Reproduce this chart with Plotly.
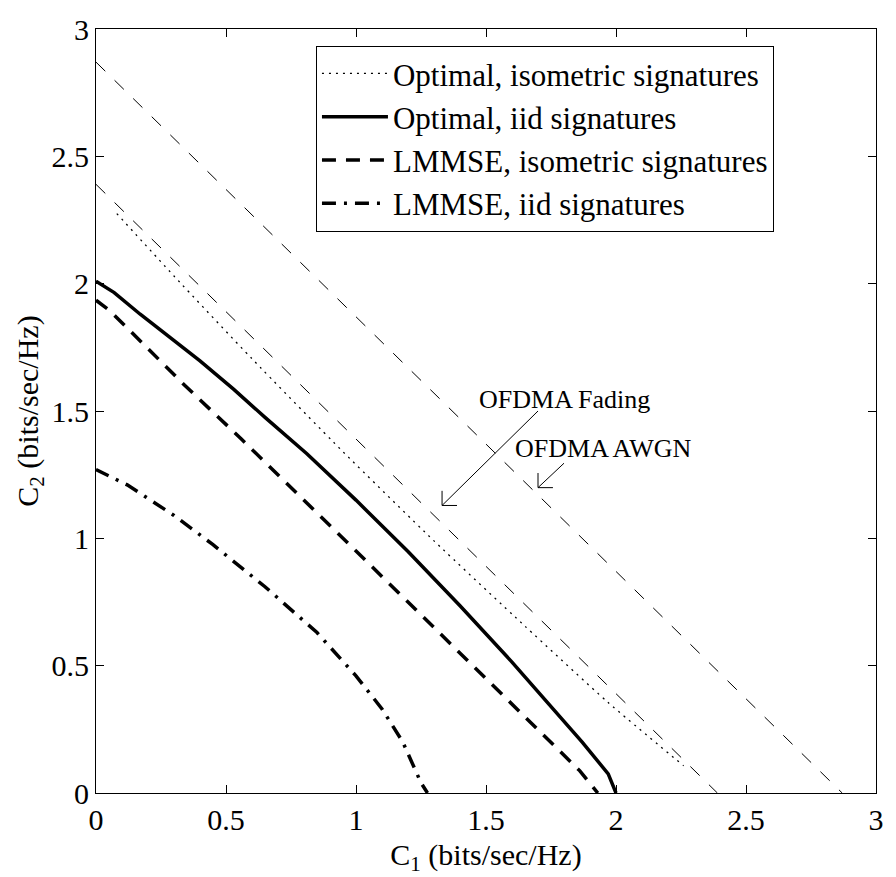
import plotly.graph_objects as go

# ---- data ----
opt_iso_x = [0.08, 0.3, 0.6, 0.95, 1.3, 1.65, 1.97, 2.26]
opt_iso_y = [2.275, 2.03, 1.705, 1.34, 0.99, 0.655, 0.355, 0.107]

opt_iid_x = [0, 0.07, 0.17, 0.27, 0.4, 0.53, 0.65, 0.81, 1.0, 1.2, 1.4, 1.6, 1.73, 1.87, 1.97, 2.0]
opt_iid_y = [2.01, 1.965, 1.88, 1.80, 1.697, 1.585, 1.475, 1.333, 1.15, 0.948, 0.735, 0.514, 0.365, 0.2, 0.075, 0.0]

lmmse_iso_x = [0, 0.054, 0.2, 0.341, 0.558, 0.8, 1.0, 1.2, 1.4, 1.644, 1.79, 1.861, 1.93]
lmmse_iso_y = [1.935, 1.893, 1.745, 1.601, 1.391, 1.152, 0.95, 0.75, 0.548, 0.302, 0.157, 0.087, 0.0]

lmmse_iid_x = [0, 0.12, 0.3, 0.45, 0.65, 0.85, 1.0, 1.1, 1.18, 1.21, 1.25, 1.275]
lmmse_iid_y = [1.27, 1.21, 1.09, 0.975, 0.81, 0.63, 0.46, 0.33, 0.2, 0.13, 0.04, 0.0]

ofdma_fading_x = [0, 2.39]
ofdma_fading_y = [2.39, 0]
ofdma_awgn_x = [0, 2.87]
ofdma_awgn_y = [2.87, 0]

series_names = ["Optimal, isometric signatures", "Optimal, iid signatures",
                "LMMSE, isometric signatures", "LMMSE, iid signatures"]

annot_texts = ["OFDMA Fading", "OFDMA AWGN"]
annot_text_pos = [(1.465, 1.545), (1.605, 1.353)]
annot_tail = [(1.70, 1.50), (1.80, 1.295)]
annot_head = [(1.331, 1.129), (1.70, 1.199)]

tick_vals = [0, 0.5, 1, 1.5, 2, 2.5, 3]
tick_text = ["0", "0.5", "1", "1.5", "2", "2.5", "3"]

FONT = "Liberation Serif, Times New Roman, serif"

fig = go.Figure()
fig.add_trace(go.Scatter(x=ofdma_awgn_x, y=ofdma_awgn_y, mode="lines", showlegend=False,
                         line=dict(color="black", width=1, dash="13px,13px")))
fig.add_trace(go.Scatter(x=ofdma_fading_x, y=ofdma_fading_y, mode="lines", showlegend=False,
                         line=dict(color="black", width=1, dash="13px,13px")))
fig.add_trace(go.Scatter(x=opt_iso_x, y=opt_iso_y, mode="lines", name=series_names[0],
                         line=dict(color="black", width=1.3, dash="2px,5px", shape="spline", smoothing=0.6)))
fig.add_trace(go.Scatter(x=opt_iid_x, y=opt_iid_y, mode="lines", name=series_names[1],
                         line=dict(color="black", width=3.5)))
fig.add_trace(go.Scatter(x=lmmse_iso_x, y=lmmse_iso_y, mode="lines", name=series_names[2],
                         line=dict(color="black", width=3.5, dash="14px,10px")))
fig.add_trace(go.Scatter(x=lmmse_iid_x, y=lmmse_iid_y, mode="lines", name=series_names[3],
                         line=dict(color="black", width=3.5, dash="14px,8px,3px,8px")))

barb = 0.0575
shapes = []
annotations = []
for txt, (tx, ty), (ax_, ay_), (hx, hy) in zip(annot_texts, annot_text_pos, annot_tail, annot_head):
    annotations.append(dict(x=tx, y=ty, xref="x", yref="y", text=txt, showarrow=False,
                            xanchor="left", yanchor="middle",
                            font=dict(family=FONT, size=26, color="black")))
    shapes.append(dict(type="line", xref="x", yref="y", x0=ax_, y0=ay_, x1=hx, y1=hy,
                       line=dict(color="black", width=1)))
    shapes.append(dict(type="line", xref="x", yref="y", x0=hx, y0=hy, x1=hx, y1=hy + barb,
                       line=dict(color="black", width=1)))
    shapes.append(dict(type="line", xref="x", yref="y", x0=hx, y0=hy, x1=hx + barb, y1=hy,
                       line=dict(color="black", width=1)))

axis_common = dict(range=[0, 3], tickvals=tick_vals, ticktext=tick_text, ticks="inside",
                   ticklen=8, tickcolor="black", showline=True, linecolor="black", linewidth=1,
                   mirror="ticks", showgrid=False, zeroline=False, ticklabeloverflow="allow",
                   tickfont=dict(family=FONT, size=30, color="black"))

fig.update_layout(
    width=896, height=877,
    margin=dict(l=96, r=17, t=14, b=81),
    paper_bgcolor="white", plot_bgcolor="white",
    font=dict(family=FONT, color="black"),
    xaxis=dict(**axis_common,
               title=dict(text="C<sub>1</sub> (bits/sec/Hz)", font=dict(family=FONT, size=30), standoff=8)),
    yaxis=dict(**axis_common,
               title=dict(text="C<sub>2</sub> (bits/sec/Hz)", font=dict(family=FONT, size=30), standoff=4)),
    legend=dict(x=0.282, y=0.978, xanchor="left", yanchor="top",
                bgcolor="white", bordercolor="black", borderwidth=1,
                font=dict(family=FONT, size=31, color="black"),
                tracegroupgap=0, itemwidth=66),
    shapes=shapes,
    annotations=annotations,
)

fig.write_html("out.html")
